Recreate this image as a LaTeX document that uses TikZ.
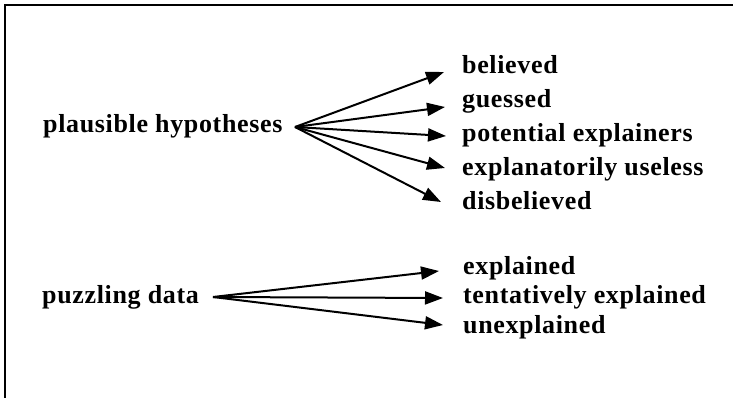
\documentclass[tikz,border=0pt]{standalone}
\usepackage{fontspec}
\setmainfont{Liberation Serif}[LetterSpace=2.5]
\usetikzlibrary{arrows.meta}
\begin{document}
\begin{tikzpicture}[x=1pt,y=-1pt,
  lbl/.style={font=\fontsize{26}{31}\selectfont\bfseries, inner sep=0pt, anchor=base west},
  arr/.style={line width=2pt, -{Triangle[length=18pt,width=13pt]}}]
\useasboundingbox (0,0) rectangle (733,398);
% open frame: top and left rules
\draw[line width=2pt] (4.5,398) -- (4.5,5.5) -- (733,5.5);

% source labels
\node[lbl] (hyp) at (43,133) {plausible hypotheses};
\node[lbl] (dat) at (42,303) {puzzling data};
\coordinate (hubA) at (295,127);
\coordinate (hubB) at (213,297);

% hypothesis categories
\node[lbl] (bel) at (462,74) {believed};
\node[lbl] (gue) at (462,108) {guessed};
\node[lbl] (pot) at (462,142) {potential explainers};
\node[lbl] (use) at (462,176) {explanatorily useless};
\node[lbl] (dis) at (462,210) {disbelieved};

% data categories
\node[lbl] (exp) at (463,274) {explained};
\node[lbl] (ten) at (463,303) {tentatively explained};
\node[lbl] (une) at (463,333) {unexplained};

% arrow tips, just left of each label
\coordinate (tbel) at (444,72);
\coordinate (tgue) at (445,107);
\coordinate (tpot) at (446,136);
\coordinate (tuse) at (445,168);
\coordinate (tdis) at (441,202);
\coordinate (texp) at (439,271);
\coordinate (tten) at (443,298);
\coordinate (tune) at (443,325);

\foreach \t in {tbel,tgue,tpot,tuse,tdis}
  \draw[arr] (hubA) -- (\t);
\foreach \t in {texp,tten,tune}
  \draw[arr] (hubB) -- (\t);
\end{tikzpicture}
\end{document}
